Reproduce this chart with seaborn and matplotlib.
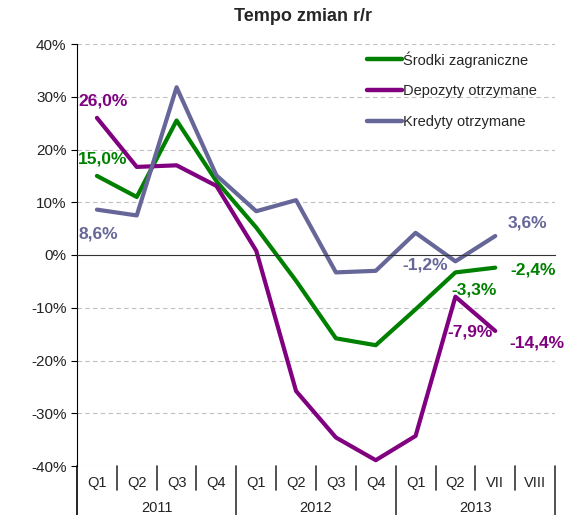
import seaborn as sns
import numpy as np
import pandas as pd
import matplotlib.pyplot as plt
from matplotlib.lines import Line2D
import matplotlib.transforms as mtransforms

# kategorie na osi X
kwartaly = ['Q1', 'Q2', 'Q3', 'Q4', 'Q1', 'Q2', 'Q3', 'Q4', 'Q1', 'Q2', 'VII', 'VIII']
lata = ['2011', '2012', '2013']

srodki = [15.0, 11.0, 25.5, 14.0, 5.2, -4.9, -15.8, -17.1, -10.3, -3.3, -2.4, np.nan]
depozyty = [26.0, 16.7, 17.0, 13.1, 0.8, -25.8, -34.6, -38.9, -34.3, -7.9, -14.4, np.nan]
kredyty = [8.6, 7.5, 31.8, 15.1, 8.3, 10.4, -3.3, -3.0, 4.2, -1.2, 3.6, np.nan]

serie = ['Środki zagraniczne', 'Depozyty otrzymane', 'Kredyty otrzymane']
kolory = ['#008000', '#800080', '#666699']

df = pd.DataFrame({
    'x': list(range(12)) * 3,
    'y': srodki + depozyty + kredyty,
    'seria': [s for s in serie for _ in range(12)],
})

sns.set_style('white')
plt.rcParams['font.family'] = ['Liberation Sans', 'DejaVu Sans']

fig = plt.figure(figsize=(5.67, 5.15), dpi=100)
ax = fig.add_axes([77 / 567, 49 / 515, 478 / 567, 422 / 515])

sns.lineplot(data=df, x='x', y='y', hue='seria', palette=kolory,
             linewidth=3.0, ax=ax, legend=False, sort=False)

ax.set_xlim(-0.5, 11.5)
ax.set_ylim(-40, 40)
ax.set_yticks(range(-40, 41, 10))
ax.set_yticklabels([f'{v}%' for v in range(-40, 41, 10)], fontsize=11, color='#222222')
for v in range(-40, 41, 10):
    if v != 0:
        ax.axhline(v, color='#c0c0c0', lw=0.8, ls=(0, (4, 3)), zorder=0)
ax.set_xlabel('')
ax.set_ylabel('')

for s in ['top', 'right']:
    ax.spines[s].set_visible(False)
ax.spines['left'].set_color('black')
ax.spines['bottom'].set_position(('data', 0))
ax.spines['bottom'].set_color('#333333')
ax.set_xticks(np.arange(0.5, 12, 1))
ax.set_xticklabels([])
ax.tick_params(axis='x', direction='out', length=4, color='#333333')
ax.tick_params(axis='y', direction='out', length=4, color='black', left=True)

# podpisy kategorii pod wykresem
trans = mtransforms.blended_transform_factory(ax.transData, ax.transAxes)
for i, k in enumerate(kwartaly):
    ax.text(i, -0.040, k, transform=trans, ha='center', va='center', fontsize=10.5,
            color='#222222')
for i in range(1, 12):
    dol = -0.116 if i % 4 == 0 else -0.057
    ax.plot([i - 0.5, i - 0.5], [0, dol], transform=trans, color='#333333',
            lw=1.2, clip_on=False)
ax.plot([11.5, 11.5], [0, -0.116], transform=trans, color='#333333', lw=1.2, clip_on=False)
ax.plot([-0.5, -0.5], [0, -0.116], transform=trans, color='black', lw=1.2, clip_on=False)
for j, r in enumerate(lata):
    ax.text(j * 4 + 1.5, -0.0995, r, transform=trans, ha='center', va='center', fontsize=10.5,
            color='#222222')

# etykiety danych
etykiety = [
    (depozyty, 0, 1, (6, 17)),
    (srodki, 0, 0, (6, 17)),
    (kredyty, 0, 2, (1, -24)),
    (kredyty, 10, 2, (32, 13)),
    (kredyty, 9, 2, (-30, -4)),
    (srodki, 10, 0, (38, -2)),
    (srodki, 9, 0, (19, -18)),
    (depozyty, 9, 1, (15, -35)),
    (depozyty, 10, 1, (42, -12)),
]
for dane, i, c, off in etykiety:
    tekst = f'{dane[i]:.1f}%'.replace('.', ',')
    ax.annotate(tekst, (i, dane[i]), xytext=off, textcoords='offset pixels',
                ha='center', va='center', fontsize=12.5, fontweight='bold',
                color=kolory[c])

uchwyty = [Line2D([0], [0], color=k, lw=3.2) for k in kolory]
ax.legend(uchwyty, serie, loc='upper left', bbox_to_anchor=(284 / 478, 0.997),
          frameon=False, fontsize=10.5, handlelength=2.4, handletextpad=0.1,
          labelspacing=1.15, borderaxespad=0)

fig.text(303 / 567, 0.985, 'Tempo zmian r/r', fontsize=13, fontweight='bold',
         ha='center', va='top')

fig.savefig('out.png', dpi=100)
